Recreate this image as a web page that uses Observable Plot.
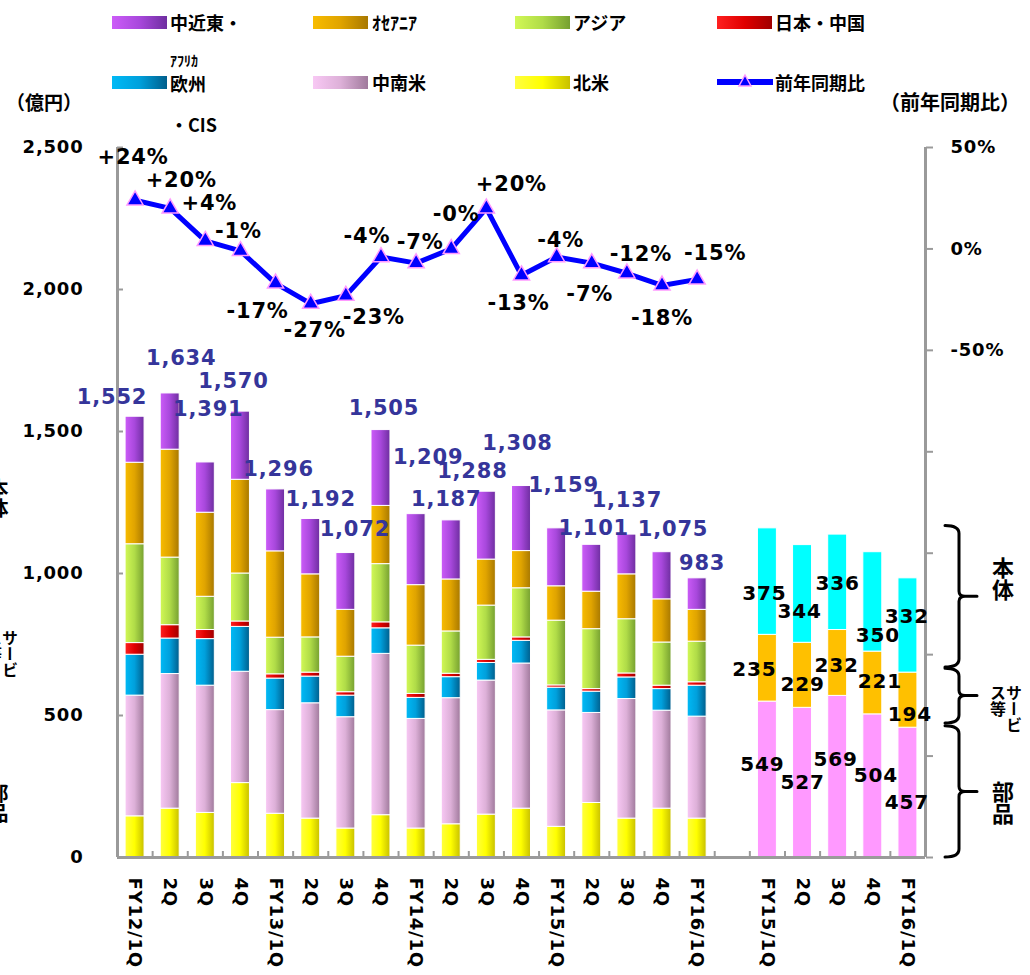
<!DOCTYPE html>
<html><head><meta charset="utf-8">
<script src="https://cdn.jsdelivr.net/npm/d3@7"></script>
<script src="https://cdn.jsdelivr.net/npm/@observablehq/plot@0.6"></script>
<style>
body{margin:0;background:#fff;}
#wrap{position:relative;width:1030px;height:975px;overflow:hidden;background:#fff}
#wrap svg{position:absolute;left:0;top:0}
#wrap svg text{letter-spacing:0.8px}
.ov{position:absolute;font-family:"Noto Sans CJK JP",sans-serif;font-weight:700;line-height:1;white-space:nowrap;color:#000}
.sw{position:absolute;width:55px;height:13px}
.vt{writing-mode:vertical-rl;white-space:normal}
</style></head><body><div id="wrap"></div>
<script>
// ---------- data ----------
const quarters = ["FY12/1Q","2Q","3Q","4Q","FY13/1Q","2Q","3Q","4Q","FY14/1Q","2Q","3Q","4Q","FY15/1Q","2Q","3Q","4Q","FY16/1Q"];
const regions = ["北米","中南米","欧州・CIS","日本・中国","アジア","オセアニア","中近東・アフリカ"];
const northAmerica     = [145,172,157,262,154,137,102,149,102,117,151,172,108,192,137,172,137];
const latinAmerica     = [425,474,448,392,365,406,392,568,386,444,472,511,410,317,421,345,359];
const europeCIS        = [144,125,164,158,111, 94, 76, 90, 74, 74, 62, 80, 80, 75, 76, 76,109];
const japanChina       = [ 41, 47, 32, 19, 15, 14, 12, 21, 14, 12, 11, 12,  8,  9, 14, 12, 12];
const asia             = [348,238,117,169,129,124,125,205,170,149,191,173,228,211,191,152,143];
const oceania          = [287,380,296,330,304,222,165,205,213,183,162,131,121,132,158,152,112];
const middleEastAfrica = [162,198,177,240,218,195,200,267,250,208,239,229,204,165,140,166,111];
const totals = [1552,1634,1391,1570,1296,1192,1072,1505,1209,1187,1288,1308,1159,1101,1137,1075,983];
const yoy = [24,20,4,-1,-17,-27,-23,-4,-7,-0,20,-13,-4,-7,-12,-18,-15];

const rightQuarters = ["FY15/1Q","2Q","3Q","4Q","FY16/1Q"];
const rightSeriesNames = ["部品","サービス等","本体"];
const parts    = [549,527,569,504,457];
const services = [235,229,232,221,194];
const units    = [375,344,336,350,332];

const leftTicks = [0,500,1000,1500,2000,2500];
const pctTicks = [-300,-250,-200,-150,-100,-50,0,50];
const pctLabelled = [50,0,-50];

// ---------- layout / style ----------
const W = 1030, H = 975, ML = 117, MR = 105, MT = 147, MB = 118;
const axisGray = "#9a9a9a";
const regionColors = ["#FFFF00","#DDB0D8","#00A0DC","#E00000","#B0DC48","#E0A400","#A848DC"];
const regionGrad = [
  ["#FFFF40","#FFFF00","#C8C000"],
  ["#F8C8F4","#DDB0D8","#A07A9C"],
  ["#00BAF6","#00A0DC","#005E8C"],
  ["#FF2020","#E00000","#A00000"],
  ["#D2F856","#B0DC48","#76A030"],
  ["#F8BC00","#E0A400","#A87800"],
  ["#CC5CF8","#A848DC","#6E2EA0"]
];
const rightColors = ["#FF99FF","#FFC000","#00FFFF"];

// label nudges (pixels) relative to default anchor
const barLabelNudge = [[-23,-19],[11,-35],[3,-53],[-7,-30],[3,-20],[10,-20],[9,-24],[3,-22],[12,-57],[-5,-21],[-14,-20],[-4,-43],[7,-43],[2,-17],[0,-34],[11,-23],[5,-15]];
const lineLabelNudge = [[-2,-43],[11,-28],[4,-38],[-2,-20],[-18,28],[4,27],[28,22],[-14,-21],[4,-21],[5,-35],[25,-24],[-3,28],[4,-17],[-2,31],[14,-19],[0,33],[18,-26]];
const rightLabelNudge = [
  [[-5,-15],[-13,1],[-3,12]],
  [[0,0],[0,9],[-3,18]],
  [[-2,-17],[-1,3],[0,1]],
  [[3,-10],[7,-1],[5,34]],
  [[-1,10],[2,14],[-1,-9]]
];

// ---------- derived tables ----------
const keys = [...quarters.map((_, i) => "L" + i), "gap", ...rightQuarters.map((_, i) => "R" + i)];
const keyLabel = new Map([...quarters.map((q, i) => ["L" + i, q]), ["gap", ""], ...rightQuarters.map((q, i) => ["R" + i, q])]);
const regionSeries = [northAmerica, latinAmerica, europeCIS, japanChina, asia, oceania, middleEastAfrica];
const rightSeries = [parts, services, units];

const barRows = [];
quarters.forEach((q, i) => regionSeries.forEach((s, j) => barRows.push({key: "L" + i, series: regions[j], value: s[i]})));
rightQuarters.forEach((q, i) => rightSeries.forEach((s, j) => barRows.push({key: "R" + i, series: rightSeriesNames[j], value: s[i]})));

const rightLabelRows = [];
rightQuarters.forEach((q, i) => {
  let base = 0;
  rightSeries.forEach((s, j) => {
    rightLabelRows.push({key: "R" + i, mid: base + s[i] / 2, value: s[i], nudge: rightLabelNudge[i][j]});
    base += s[i];
  });
});

const lineRows = quarters.map((q, i) => ({key: "L" + i, pct: yoy[i], nudge: lineLabelNudge[i]}));
const totalRows = quarters.map((q, i) => ({key: "L" + i, total: totals[i], nudge: barLabelNudge[i]}));

const step = (W - ML - MR) / keys.length;
const yPerPx = 2500 / (H - MT - MB);
const pctToY = p => (p + 300) * 2500 / 350;
const fmtPct = p => (p > 0 ? "+" : (p < 0 || Object.is(p, -0)) ? "-" : "") + Math.abs(p) + "%";
const fmtNum = d3.format(",");

const chart = Plot.plot({
  width: W, height: H,
  marginLeft: ML, marginRight: MR, marginTop: MT, marginBottom: MB,
  style: {fontFamily: "'DejaVu Sans', sans-serif", background: "transparent", overflow: "visible"},
  x: {domain: keys, paddingInner: 0.46, paddingOuter: 0.23, round: false},
  y: {domain: [0, 2500]},
  color: {domain: [...regions, ...rightSeriesNames], range: [...regionColors, ...rightColors]},
  marks: [
    Plot.ruleX(keys.slice(1), {x: d => d, dx: -step / 2, y1: 0, y2: 6 * yPerPx, stroke: axisGray, strokeWidth: 2}),
    Plot.barY(barRows, {x: "key", y: "value", fill: "series", stroke: "#ffffff", strokeWidth: 1}),
    Plot.ruleY([0], {stroke: axisGray, strokeWidth: 3}),
    Plot.ruleX([keys[0]], {x: d => d, dx: -step / 2, y1: 0, y2: 2500, stroke: axisGray, strokeWidth: 3}),
    Plot.ruleX([keys[keys.length - 1]], {x: d => d, dx: step / 2, y1: 0, y2: 2500, stroke: axisGray, strokeWidth: 3}),
    Plot.axisY(leftTicks, {anchor: "left", label: null, tickSize: 6, dx: 6, tickFormat: () => "", stroke: axisGray, strokeWidth: 2}),
    Plot.axisY(leftTicks, {anchor: "left", label: null, tickSize: 0, tickPadding: 34, tickFormat: fmtNum, fontSize: 18, fontWeight: "bold", fill: "#000"}),
    Plot.axisY(pctTicks.map(pctToY), {anchor: "right", label: null, tickSize: 7, tickPadding: 18,
      tickFormat: v => { const p = Math.round(v * 350 / 2500 - 300); return pctLabelled.includes(p) ? (p === 0 ? "0" : p) + "%" : ""; },
      stroke: axisGray, strokeWidth: 2, fontSize: 18, fontWeight: "bold", fill: "#000"}),
    Plot.axisX(keys, {anchor: "bottom", label: null, tickSize: 0, tickRotate: 90, tickPadding: 20, tickFormat: k => keyLabel.get(k), fontSize: 18, fontWeight: "bold", fill: "#000"}),
    Plot.line(lineRows, {x: "key", y: d => pctToY(d.pct), stroke: "#0000FF", strokeWidth: 5, strokeLinejoin: "round"}),
    Plot.dot(lineRows, {x: "key", y: d => pctToY(d.pct), symbol: "triangle", r: 6, fill: "#0000FF", stroke: "#FF99FF", strokeWidth: 1.5}),
    ...totalRows.map(d => Plot.text([d], {x: "key", y: "total", text: r => fmtNum(r.total), dx: d.nudge[0], dy: d.nudge[1], fontSize: 21, fontWeight: "bold", fill: "#35359A"})),
    ...lineRows.map(d => Plot.text([d], {x: "key", y: r => pctToY(r.pct), text: r => fmtPct(r.pct), dx: d.nudge[0], dy: d.nudge[1], fontSize: 21, fontWeight: "bold", fill: "#000"})),
    ...rightLabelRows.map(d => Plot.text([d], {x: "key", y: "mid", text: r => String(r.value), dx: d.nudge[0], dy: d.nudge[1], fontSize: 20, fontWeight: "bold", fill: "#000"}))
  ]
});

const wrap = document.getElementById("wrap");
wrap.appendChild(chart);

// ---------- gradients for regional bars ----------
const svg = d3.select(chart);
const defs = svg.insert("defs", ":first-child");
const colorToGrad = new Map();
regionColors.forEach((c, i) => {
  const g = defs.append("linearGradient").attr("id", "g" + i).attr("x1", 0).attr("x2", 1).attr("y1", 0).attr("y2", 0);
  regionGrad[i].forEach((s, k) => g.append("stop").attr("offset", k / 2).attr("stop-color", s));
  colorToGrad.set(c.toLowerCase(), "url(#g" + i + ")");
});
svg.selectAll("rect").each(function() {
  const f = (this.getAttribute("fill") || "").toLowerCase();
  if (colorToGrad.has(f)) this.setAttribute("fill", colorToGrad.get(f));
});

// ---------- braces on the right ----------
const ys = chart.scale("y");
const braces = [{lo: 669, hi: 1167}, {lo: 472, hi: 665}, {lo: 0, hi: 462}];
const ax = W - MR, x0 = ax + 20, xs = ax + 34, xt = ax + 52;
braces.forEach(b => {
  const y0 = ys.apply(b.hi), y1 = ys.apply(b.lo), ym = (y0 + y1) / 2, r = 8;
  const p = `M${x0},${y0} Q${xs},${y0} ${xs},${y0 + r} L${xs},${ym - 5} Q${xs},${ym} ${xs + 6},${ym} L${xt},${ym} M${xs + 6},${ym} Q${xs},${ym} ${xs},${ym + 5} L${xs},${y1 - r} Q${xs},${y1} ${x0},${y1}`;
  svg.append("path").attr("d", p).attr("fill", "none").attr("stroke", "#000").attr("stroke-width", 3).attr("stroke-linecap", "round");
});

// ---------- overlays (legend, titles, annotations) ----------
function addText(txt, left, top, size, cls = "") {
  const d = document.createElement("div");
  d.className = "ov " + cls;
  d.textContent = txt;
  d.style.left = left + "px"; d.style.top = top + "px"; d.style.fontSize = size + "px";
  wrap.appendChild(d);
  return d;
}
function addSwatch(stops, left, top) {
  const d = document.createElement("div");
  d.className = "sw";
  d.style.left = left + "px"; d.style.top = top + "px";
  d.style.background = `linear-gradient(to right, ${stops.join(",")})`;
  wrap.appendChild(d);
}
// row 1
addSwatch(regionGrad[6], 112, 16); addText("中近東・", 170, 13, 18);
addSwatch(regionGrad[5], 313, 16); addText("ｵｾｱﾆｱ", 372, 13, 18);
addSwatch(regionGrad[4], 515, 16); addText("アジア", 573, 13, 18);
addSwatch(regionGrad[3], 717, 16); addText("日本・中国", 775, 13, 18);
// row 2
addSwatch(regionGrad[2], 112, 76); addText("ｱﾌﾘｶ", 170, 53, 14); addText("欧州", 170, 74, 18);
addSwatch(regionGrad[1], 313, 76); addText("中南米", 372, 73, 18);
addSwatch(regionGrad[0], 515, 76); addText("北米", 573, 73, 18);
const lsv = document.createElementNS("http://www.w3.org/2000/svg", "svg");
lsv.setAttribute("width", 60); lsv.setAttribute("height", 20);
lsv.style.position = "absolute"; lsv.style.left = "715px"; lsv.style.top = "72px";
lsv.innerHTML = '<line x1="2" x2="58" y1="10" y2="10" stroke="#0000FF" stroke-width="6"/><polygon points="30,3 36,14 24,14" fill="#0000FF" stroke="#FF99FF" stroke-width="1.5"/>';
wrap.appendChild(lsv);
addText("前年同期比", 775, 73, 18);
// row 3
addText("・CIS", 170, 115, 18);
// axis titles
addText("（億円）", 6, 92, 19);
addText("（前年同期比）", 880, 92, 20);
// right annotations
addText("本体", 992, 557, 22, "vt");
const sv = addText("サービス等", 990, 685, 16, "vt"); sv.style.height = "48px";
addText("部品", 992, 781, 22, "vt");
// clipped copies at the left edge
addText("本体", -12, 478, 20, "vt");
const sv2 = addText("サービス等", -14, 630, 16, "vt"); sv2.style.height = "48px";
addText("部品", -12, 783, 20, "vt");
</script></body></html>
